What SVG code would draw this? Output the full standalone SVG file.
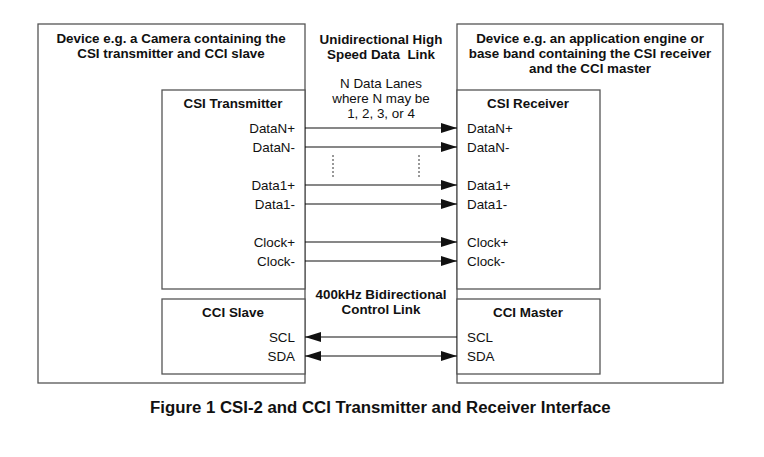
<svg xmlns="http://www.w3.org/2000/svg" width="764" height="457" viewBox="0 0 764 457">
<style>
.box{fill:#fff;stroke:#555;stroke-width:1.3}
.t{font-family:"Liberation Sans",Arial,sans-serif;font-size:13.4px;fill:#111}
.b{font-weight:bold}
.m{text-anchor:middle}
.e{text-anchor:end}
.ln{stroke:#111;stroke-width:1.2;fill:none}
.dash{stroke:#333;stroke-width:1;stroke-dasharray:2,2;fill:none}
</style>
<defs>
<marker id="ah" viewBox="0 0 16 10" refX="16" refY="5" markerWidth="16" markerHeight="10" markerUnits="userSpaceOnUse" orient="auto-start-reverse">
<path d="M0,0 L16,5 L0,10 Z" fill="#111"/>
</marker>
</defs>
<rect width="764" height="457" fill="#fff"/>
<g id="left-device">
<rect class="box" x="38" y="24" width="267" height="359"/>
<text class="t b m" x="171" y="43">Device e.g. a Camera containing the</text>
<text class="t b m" x="171" y="58">CSI transmitter and CCI slave</text>
</g>
<g id="right-device">
<rect class="box" x="457" y="24" width="266" height="359"/>
<text class="t b m" x="590" y="43">Device e.g. an application engine or</text>
<text class="t b m" x="590" y="58">base band containing the CSI receiver</text>
<text class="t b m" x="590" y="73">and the CCI master</text>
</g>
<g id="csi-transmitter">
<rect class="box" x="162" y="90" width="143" height="199"/>
<text class="t b m" x="233" y="108">CSI Transmitter</text>
<text class="t e" x="295" y="133">DataN+</text>
<text class="t e" x="295" y="152">DataN-</text>
<text class="t e" x="295" y="190">Data1+</text>
<text class="t e" x="295" y="209">Data1-</text>
<text class="t e" x="295" y="247">Clock+</text>
<text class="t e" x="295" y="266">Clock-</text>
</g>
<g id="csi-receiver">
<rect class="box" x="457" y="90" width="143" height="199"/>
<text class="t b m" x="528" y="108">CSI Receiver</text>
<text class="t" x="467" y="133">DataN+</text>
<text class="t" x="467" y="152">DataN-</text>
<text class="t" x="467" y="190">Data1+</text>
<text class="t" x="467" y="209">Data1-</text>
<text class="t" x="467" y="247">Clock+</text>
<text class="t" x="467" y="266">Clock-</text>
</g>
<g id="cci-slave">
<rect class="box" x="162" y="299" width="143" height="75"/>
<text class="t b m" x="233" y="317">CCI Slave</text>
<text class="t e" x="295" y="342">SCL</text>
<text class="t e" x="295" y="361">SDA</text>
</g>
<g id="cci-master">
<rect class="box" x="457" y="299" width="143" height="75"/>
<text class="t b m" x="528" y="317">CCI Master</text>
<text class="t" x="467" y="342">SCL</text>
<text class="t" x="467" y="361">SDA</text>
</g>
<g id="link-labels">
<text class="t b m" x="381" y="44">Unidirectional High</text>
<text class="t b m" x="381" y="59" xml:space="preserve">Speed Data  Link</text>
<text class="t m" x="381" y="88">N Data Lanes</text>
<text class="t m" x="381" y="103">where N may be</text>
<text class="t m" x="381" y="118">1, 2, 3, or 4</text>
<text class="t b m" x="381" y="299">400kHz Bidirectional</text>
<text class="t b m" x="381" y="314">Control Link</text>
</g>
<g id="connectors">
<line class="ln" x1="305" y1="128" x2="457" y2="128" marker-end="url(#ah)"/>
<line class="ln" x1="305" y1="147" x2="457" y2="147" marker-end="url(#ah)"/>
<line class="ln" x1="305" y1="185" x2="457" y2="185" marker-end="url(#ah)"/>
<line class="ln" x1="305" y1="204" x2="457" y2="204" marker-end="url(#ah)"/>
<line class="ln" x1="305" y1="242" x2="457" y2="242" marker-end="url(#ah)"/>
<line class="ln" x1="305" y1="261" x2="457" y2="261" marker-end="url(#ah)"/>
<line class="dash" x1="333" y1="155" x2="333" y2="177"/>
<line class="dash" x1="419" y1="155" x2="419" y2="177"/>
<line class="ln" x1="457" y1="337" x2="305" y2="337" marker-end="url(#ah)"/>
<line class="ln" x1="305" y1="356" x2="457" y2="356" marker-start="url(#ah)" marker-end="url(#ah)"/>
</g>
<text class="t b" x="150" y="413" style="font-size:16.8px">Figure 1 CSI-2 and CCI Transmitter and Receiver Interface</text>
</svg>
